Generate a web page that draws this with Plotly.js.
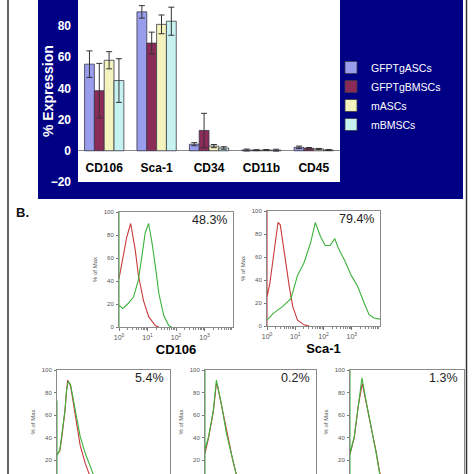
<!DOCTYPE html>
<html><head><meta charset="utf-8">
<script src="https://cdn.plot.ly/plotly-3.0.1.min.js"></script>
<style>html,body{margin:0;padding:0;background:#fff}#chart{width:474px;height:474px}</style>
</head><body><div id="chart"></div>
<script>
// ---- Panel A data (bar chart) ----
const categories = ['CD106', 'Sca-1', 'CD34', 'CD11b', 'CD45'];
const seriesNames = ['GFPTgASCs', 'GFPTgBMSCs', 'mASCs', 'mBMSCs'];
const gfpAscVals = [55.5, 89, 4.2, 0.5, 2.2];
const gfpAscErr = [8.5, 4, 1, 0.6, 0.8];
const gfpBmscVals = [38.5, 69, 13, 0.4, 1.6];
const gfpBmscErr = [17.5, 7, 11, 0.3, 0.5];
const mAscVals = [58, 81, 3, 0.5, 1.2];
const mAscErr = [5.5, 6, 1, 0.3, 0.3];
const mBmscVals = [45, 83, 1.8, 0.4, 0.5];
const mBmscErr = [14, 9, 0.8, 0.6, 0.3];
const yTicksA = [-20, 0, 20, 40, 60, 80];
const yTitleA = '% Expression';

// ---- Panel B data (histograms; x in decades, y in % of max) ----
const decadeTicks = [0, 1, 2, 3];
const decadeLabels = ['10<sup>0</sup>', '10<sup>1</sup>', '10<sup>2</sup>', '10<sup>3</sup>'];
const histTitles = ['CD106', 'Sca-1'];
const histPercents = ['48.3%', '79.4%', '5.4%', '0.2%', '1.3%'];

const cd106RedX = [0, 0.15, 0.27, 0.41, 0.57, 0.68, 0.86, 1.04, 1.28, 1.4];
const cd106RedY = [42, 61, 78, 90, 67, 45, 23, 9, 1, 0];
const cd106GreenX = [0, 0, 0, 0.13, 0.3, 0.51, 0.68, 0.8, 0.92, 1.04, 1.16, 1.28, 1.4, 1.57, 1.75, 1.85];
const cd106GreenY = [0, 100, 19, 16, 20, 26, 41, 61, 82, 90, 73, 52, 29, 10, 1, 0];

const scaRedX = [0, 0, 0, 0.1, 0.22, 0.33, 0.39, 0.47, 0.56, 0.68, 0.79, 0.91, 1.08, 1.31, 1.5];
const scaRedY = [0, 100, 25, 37, 60, 82, 90, 88, 72, 52, 34, 17, 5, 1, 0];
const scaGreenX = [0, 0.22, 0.56, 0.85, 1.08, 1.31, 1.54, 1.71, 1.89, 2.06, 2.23, 2.4, 2.52, 2.75, 2.98, 3.2, 3.44, 3.61, 3.78, 4];
const scaGreenY = [5, 11, 17, 24, 44, 55, 72, 90, 78, 70, 70, 76, 68, 57, 44, 35, 20, 10, 7, 6];

const cd34RedX = [0, 0.1, 0.17, 0.28, 0.34, 0.38, 0.48, 0.64, 0.82, 1.0, 1.11, 1.25];
const cd34RedY = [25, 28, 40, 63, 82, 91, 86, 62, 33, 17, 8, 0];
const cd34GreenX = [0, 0, 0, 0.1, 0.17, 0.28, 0.34, 0.4, 0.48, 0.64, 0.82, 1.0, 1.17, 1.29, 1.45];
const cd34GreenY = [0, 73, 24, 29, 41, 64, 82, 90, 87, 64, 41, 26, 14, 7, 0];

const cd11bRedX = [0, 0.13, 0.3, 0.41, 0.45, 0.59, 0.77, 1.0, 1.12, 1.3];
const cd11bRedY = [26, 40, 63, 88, 86, 69, 45, 20, 8, 0];
const cd11bGreenX = [0, 0, 0, 0.13, 0.3, 0.41, 0.59, 0.77, 1.0, 1.12, 1.3];
const cd11bGreenY = [0, 100, 29, 41, 64, 91, 70, 44, 20, 8, 0];

const cd45RedX = [0, 0.15, 0.29, 0.43, 0.56, 0.74, 0.92, 1.04, 1.2];
const cd45RedY = [25, 40, 68, 88, 72, 50, 27, 9, 0];
const cd45GreenX = [0, 0, 0, 0.15, 0.29, 0.42, 0.56, 0.74, 0.92, 1.04, 1.2];
const cd45GreenY = [0, 100, 26, 41, 70, 93, 73, 50, 26, 8, 0];

// ---- styles ----
const barColors = ['#9a9cec', '#8c2a58', '#f4f3bd', '#c6f2f0'];
const RED = '#c83a3a', GREEN = '#3cb23c';
const F = 'Arial, "Liberation Sans", sans-serif';

const barSeries = [
  [gfpAscVals, gfpAscErr], [gfpBmscVals, gfpBmscErr],
  [mAscVals, mAscErr], [mBmscVals, mBmscErr]
];
const traces = barSeries.map((s, i) => ({
  type: 'bar', x: categories, y: s[0], name: seriesNames[i],
  xaxis: 'x', yaxis: 'y',
  marker: {color: barColors[i], line: {color: '#3a3a4a', width: 0.8}},
  error_y: {type: 'data', array: s[1], visible: true, color: '#333', thickness: 1, width: 3}
}));

const histSets = [
  [cd106RedX, cd106RedY, cd106GreenX, cd106GreenY],
  [scaRedX, scaRedY, scaGreenX, scaGreenY],
  [cd34RedX, cd34RedY, cd34GreenX, cd34GreenY],
  [cd11bRedX, cd11bRedY, cd11bGreenX, cd11bGreenY],
  [cd45RedX, cd45RedY, cd45GreenX, cd45GreenY]
];
histSets.forEach((h, i) => {
  const n = i + 2;
  traces.push({type: 'scatter', mode: 'lines', x: h[0], y: h[1], xaxis: 'x' + n, yaxis: 'y' + n,
    line: {color: RED, width: 1.1}, showlegend: false, hoverinfo: 'skip'});
  traces.push({type: 'scatter', mode: 'lines', x: h[2], y: h[3], xaxis: 'x' + n, yaxis: 'y' + n,
    line: {color: GREEN, width: 1.1}, showlegend: false, hoverinfo: 'skip'});
});

const W = 474;
const px = v => v / W;          // horizontal pixel -> paper
const py = v => 1 - v / W;      // vertical pixel -> paper

const minorVals = [];
for (let d = 0; d < 4; d++) for (let k = 2; k < 10; k++) minorVals.push(d + Math.log10(k));

const layout = {
  width: 474, height: 474,
  margin: {l: 0, r: 0, t: 0, b: 0},
  paper_bgcolor: '#ffffff', plot_bgcolor: '#ffffff',
  font: {family: F},
  barmode: 'group', bargap: 0.25, bargroupgap: 0,
  showlegend: true,
  legend: {x: px(331), y: py(53), xanchor: 'left', yanchor: 'top',
    bgcolor: 'rgba(0,0,0,0)', font: {color: '#ffffff', size: 10.5, family: F}},
  xaxis: {domain: [px(78), px(340)], anchor: 'free', position: py(151),
    showline: false, ticks: '', showgrid: false, zeroline: false,
    tickfont: {family: F, size: 12, color: '#000', weight: 'bold'}, ticklabelstandoff: 8},
  yaxis: {domain: [py(182), 1], range: [-20, 96.6], tickvals: yTicksA,
    showgrid: false, zeroline: true, zerolinecolor: '#8a8a8a', zerolinewidth: 1,
    showline: false, ticks: '',
    tickfont: {family: F, size: 12, color: '#ffffff', weight: 'bold'}, ticklabelstandoff: 6},
  shapes: [
    {type: 'rect', xref: 'paper', yref: 'paper', x0: px(38), x1: px(463), y0: py(199), y1: 1.05,
      fillcolor: '#000085', line: {width: 0}, layer: 'below'},
    {type: 'rect', xref: 'x domain', yref: 'y domain', x0: 0, x1: 1, y0: 0, y1: 1,
      fillcolor: '#ffffff', line: {width: 0}, layer: 'below'},
    {type: 'line', xref: 'paper', yref: 'paper', x0: px(8), x1: px(8), y0: -0.05, y1: 1.05,
      line: {color: '#333', width: 1.5}},
    {type: 'line', xref: 'paper', yref: 'paper', x0: px(466.5), x1: px(466.5), y0: -0.05, y1: 1.05,
      line: {color: '#333', width: 1.5}}
  ],
  annotations: [
    {text: yTitleA, xref: 'paper', yref: 'y domain', x: px(48), y: 0.5, textangle: -90,
      xanchor: 'center', yanchor: 'middle', showarrow: false,
      font: {family: F, size: 14, color: '#ffffff', weight: 'bold'}},
    {text: 'B.', xref: 'paper', yref: 'paper', x: px(14), y: py(213), xanchor: 'left', yanchor: 'middle',
      showarrow: false, font: {family: F, size: 13, color: '#111', weight: 'bold'}}
  ]
};

const histDomains = [
  [[px(119), px(233)], [py(327), py(212)], [0, 100]],
  [[px(267), px(380)], [py(326), py(211)], [0, 100]],
  [[px(57), px(170)], [0, py(370)], [7.6, 100]],
  [[px(205), px(316)], [0, py(370)], [7.6, 100]],
  [[px(350), px(464)], [0, py(370)], [7.6, 100]]
];
histDomains.forEach((d, i) => {
  const n = i + 2;
  const bottomRow = i >= 2;
  const xa = {
    domain: d[0], anchor: 'y' + n, range: [0, 4], side: bottomRow ? 'top' : 'bottom',
    showline: true, linecolor: '#8a8a8a', linewidth: 1, mirror: true,
    showgrid: false, zeroline: false,
    ticks: bottomRow ? '' : 'outside', ticklen: 3, tickcolor: '#777',
    showticklabels: !bottomRow,
    tickfont: {family: F, size: 7, color: '#555'}, ticklabelstandoff: 1
  };
  if (!bottomRow) {
    xa.tickvals = decadeTicks;
    xa.ticktext = decadeLabels;
    xa.minor = {tickvals: minorVals, ticks: 'outside', ticklen: 2, tickcolor: '#888', showgrid: false};
    xa.title = {text: histTitles[i], standoff: 4, font: {family: F, size: 13, color: '#000', weight: 'bold'}};
  }
  layout['xaxis' + n] = xa;
  layout['yaxis' + n] = {
    domain: d[1], anchor: 'x' + n, range: d[2], tickvals: [0, 20, 40, 60, 80, 100],
    showline: true, linecolor: '#8a8a8a', linewidth: 1, mirror: true,
    showgrid: false, zeroline: false, ticks: 'outside', ticklen: 2, tickcolor: '#777',
    tickfont: {family: F, size: 6, color: '#555'}, ticklabelstandoff: 1,
    title: {text: '% of Max', standoff: 5, font: {family: F, size: 6, color: '#555'}}
  };
  layout.annotations.push({text: histPercents[i], xref: 'x' + n + ' domain', yref: 'y' + n + ' domain',
    x: 1, y: 1, xanchor: 'right', yanchor: 'top', xshift: -4, yshift: 1, showarrow: false,
    font: {family: F, size: 12.5, color: '#222'}});
});

Plotly.newPlot('chart', traces, layout, {staticPlot: true, displayModeBar: false});
</script></body></html>
